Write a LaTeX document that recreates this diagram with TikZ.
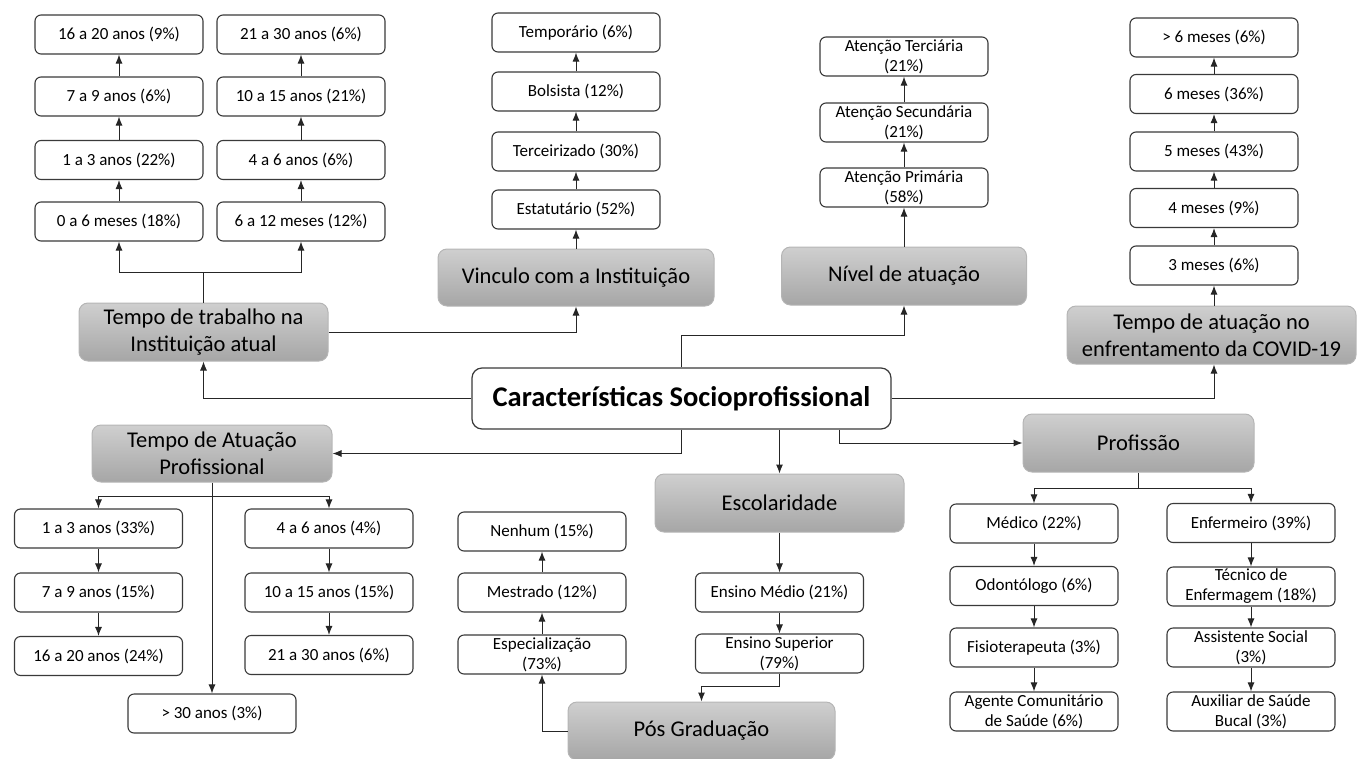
\documentclass[tikz,border=0pt]{standalone}
\usepackage{fontspec}
\setmainfont{Carlito}
\usetikzlibrary{arrows.meta}

\definecolor{catTop}{HTML}{CFCFCF}
\definecolor{catBot}{HTML}{A6A6A6}
\definecolor{catLine}{HTML}{B5B5B5}
\definecolor{boxLine}{HTML}{3A3A3A}

\tikzset{
  box/.style={draw=boxLine, line width=1.1pt, fill=white, rounded corners=6pt,
    minimum width=168pt, minimum height=39pt, inner sep=0pt, align=center,
    font=\fontsize{17}{20}\selectfont},
  cat/.style={draw=catLine, line width=1pt, top color=catTop, bottom color=catBot,
    rounded corners=9pt, inner sep=0pt, align=center,
    font=\fontsize{22.5}{27}\selectfont},
  root/.style={draw=boxLine, line width=1.2pt, fill=white, rounded corners=10pt,
    minimum width=419pt, minimum height=61pt, inner sep=0pt,
    font=\fontsize{28.5}{32}\selectfont\bfseries},
  arr/.style={-{Latex[length=9pt,width=7pt]}, line width=1pt, draw=black!85},
  ln/.style={line width=1pt, draw=black!85}
}

\begin{document}
\begin{tikzpicture}[x=1pt, y=-1pt]
    \useasboundingbox (0,0) rectangle (1357,758);

    \node[root] (car) at (681.5,398.5) {Características Socioprofissional};

    % tempo de trabalho
    \node[cat, minimum width=249pt, minimum height=58pt] (trab) at (203.5,332) {Tempo de trabalho na\\Instituição atual};
    \node[box] (trab1) at (119,221.5) {0 a 6 meses (18\%)};
    \node[box] (trab2) at (119,160) {1 a 3 anos (22\%)};
    \node[box] (trab3) at (119,96.5) {7 a 9 anos (6\%)};
    \node[box] (trab4) at (119,34.5) {16 a 20 anos (9\%)};
    \node[box] (trab5) at (301,221.5) {6 a 12 meses (12\%)};
    \node[box] (trab6) at (301,160) {4 a 6 anos (6\%)};
    \node[box] (trab7) at (301,96.5) {10 a 15 anos (21\%)};
    \node[box] (trab8) at (301,34.5) {21 a 30 anos (6\%)};
    \draw[arr] (car.west) -| (trab.south);
    \draw[ln] (trab.north) -- ++(0,-30) coordinate (trabj);
    \draw[arr] (trabj) -| (trab1.south);
    \draw[arr] (trabj) -| (trab5.south);
    \foreach \a/\b in {trab1/trab2, trab2/trab3, trab3/trab4, trab5/trab6, trab6/trab7, trab7/trab8}
        \draw[arr] (\a.north) -- (\b.south);

    % vinculo
    \node[cat, minimum width=276pt, minimum height=57pt] (vin) at (576,277.5) {Vinculo com a Instituição};
    \node[box] (vin1) at (576,209.5) {Estatutário (52\%)};
    \node[box] (vin2) at (576,151.5) {Terceirizado (30\%)};
    \node[box] (vin3) at (576,91.5) {Bolsista (12\%)};
    \node[box] (vin4) at (576,32.5) {Temporário (6\%)};
    \draw[arr] (trab.east) -| (vin.south);
    \draw[arr] (vin.north) -- (vin1.south);
    \foreach \a/\b in {vin1/vin2, vin2/vin3, vin3/vin4}
        \draw[arr] (\a.north) -- (\b.south);

    % nivel
    \node[cat, minimum width=245pt, minimum height=58pt] (niv) at (904,276) {Nível de atuação};
    \node[box] (niv1) at (904,187.5) {Atenção Primária\\(58\%)};
    \node[box] (niv2) at (904,122.5) {Atenção Secundária\\(21\%)};
    \node[box] (niv3) at (904,56.5) {Atenção Terciária\\(21\%)};
    \draw[arr] (car.north) -- ++(0,-32) -| (niv.south);
    \draw[arr] (niv.north) -- (niv1.south);
    \foreach \a/\b in {niv1/niv2, niv2/niv3}
        \draw[arr] (\a.north) -- (\b.south);

    % covid
    \node[cat, minimum width=289pt, minimum height=58pt] (cov) at (1211.5,335) {Tempo de atuação no\\enfrentamento da COVID-19};
    \node[box] (cov1) at (1214,265.5) {3 meses (6\%)};
    \node[box] (cov2) at (1214,208) {4 meses (9\%)};
    \node[box] (cov3) at (1214,151.5) {5 meses (43\%)};
    \node[box] (cov4) at (1214,94) {6 meses (36\%)};
    \node[box] (cov5) at (1214,37.5) {> 6 meses (6\%)};
    \draw[arr] (car.east) -| (cov.south -| cov1.south);
    \draw[arr] (cov.north -| cov1.south) -- (cov1.south);
    \foreach \a/\b in {cov1/cov2, cov2/cov3, cov3/cov4, cov4/cov5}
        \draw[arr] (\a.north) -- (\b.south);

    % tempo de atuacao profissional
    \node[cat, minimum width=240pt, minimum height=57pt] (atu) at (212,453.5) {Tempo de Atuação\\Profissional};
    \node[box] (atu1) at (98.5,528.5) {1 a 3 anos (33\%)};
    \node[box] (atu2) at (98.5,592.5) {7 a 9 anos (15\%)};
    \node[box] (atu3) at (98.5,656) {16 a 20 anos (24\%)};
    \node[box] (atu4) at (329,528.5) {4 a 6 anos (4\%)};
    \node[box] (atu5) at (329,592.5) {10 a 15 anos (15\%)};
    \node[box] (atu6) at (329,655) {21 a 30 anos (6\%)};
    \node[box] (atu7) at (212,713.5) {> 30 anos (3\%)};
    \draw[arr] (car.south) |- (atu.east);
    \draw[arr] (atu.south) -- (atu7.north);
    \path (atu.south) ++(0,14) coordinate (atuj);
    \draw[arr] (atuj) -| (atu1.north);
    \draw[arr] (atuj) -| (atu4.north);
    \foreach \a/\b in {atu1/atu2, atu2/atu3, atu4/atu5, atu5/atu6}
        \draw[arr] (\a.south) -- (\b.north);

    % escolaridade
    \node[cat, minimum width=249pt, minimum height=58pt] (esc) at (779.5,503) {Escolaridade};
    \node[box] (esc1) at (779.5,592.5) {Ensino Médio (21\%)};
    \node[box] (esc2) at (779.5,653.5) {Ensino Superior\\(79\%)};
    \draw[arr] (car.south -| esc.north) -- (esc.north);
    \draw[arr] (esc.south) -- (esc1.north);
    \draw[arr] (esc1.south) -- (esc2.north);

    % pos graduacao
    \node[cat, minimum width=267pt, minimum height=58pt] (pos) at (701.5,731) {Pós Graduação};
    \node[box] (pos1) at (542,654.5) {Especialização\\(73\%)};
    \node[box] (pos2) at (542,592.5) {Mestrado (12\%)};
    \node[box] (pos3) at (542,531.5) {Nenhum (15\%)};
    \draw[arr] (esc2.south) -- ++(0,13) -| (pos.north);
    \draw[arr] (pos.west) -| (pos1.south);
    \draw[arr] (pos1.north) -- (pos2.south);
    \draw[arr] (pos2.north) -- (pos3.south);

    % profissao
    \node[cat, minimum width=231pt, minimum height=58pt] (pro) at (1138.5,443) {Profissão};
    \node[box] (pro1) at (1034,523.5) {Médico (22\%)};
    \node[box] (pro2) at (1034,586) {Odontólogo (6\%)};
    \node[box] (pro3) at (1034,647.5) {Fisioterapeuta (3\%)};
    \node[box] (pro4) at (1034,711.5) {Agente Comunitário\\de Saúde (6\%)};
    \node[box] (pro5) at (1251,523) {Enfermeiro (39\%)};
    \node[box] (pro6) at (1251,586.5) {Técnico de\\Enfermagem (18\%)};
    \node[box] (pro7) at (1251,647.5) {Assistente Social\\(3\%)};
    \node[box] (pro8) at (1251,711.5) {Auxiliar de Saúde\\Bucal (3\%)};
    \draw[arr] ([xshift=157.5pt]car.south) |- (pro.west);
    \draw[ln] (pro.south) -- ++(0,16) coordinate (proj);
    \draw[arr] (proj) -| (pro1.north);
    \draw[arr] (proj) -| (pro5.north);
    \foreach \a/\b in {pro1/pro2, pro2/pro3, pro3/pro4, pro5/pro6, pro6/pro7, pro7/pro8}
        \draw[arr] (\a.south) -- (\b.north);
\end{tikzpicture}
\end{document}
